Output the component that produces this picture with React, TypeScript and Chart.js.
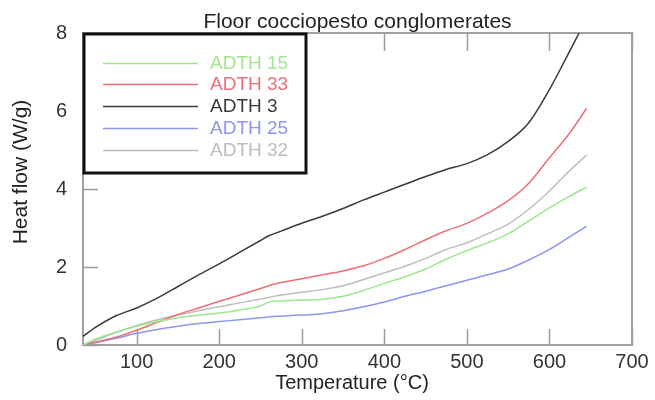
import React, { useEffect, useRef } from "react";
import { Chart, registerables } from "chart.js";

Chart.register(...registerables);

const temps = [35, 50, 75, 100, 125, 150, 175, 200, 225, 250, 260, 275, 300, 325, 350, 375, 400, 425, 450, 475, 500, 525, 550, 575, 600, 625, 645];

const adth15 = [0.0, 0.15, 0.33, 0.48, 0.6, 0.7, 0.76, 0.82, 0.9, 1.0, 1.1, 1.13, 1.15, 1.17, 1.25, 1.4, 1.58, 1.75, 1.95, 2.2, 2.42, 2.62, 2.85, 3.18, 3.52, 3.82, 4.05];
const adth33 = [0.0, 0.07, 0.2, 0.38, 0.58, 0.78, 0.95, 1.12, 1.28, 1.45, 1.52, 1.6, 1.7, 1.8, 1.9, 2.03, 2.22, 2.45, 2.7, 2.93, 3.12, 3.38, 3.7, 4.15, 4.8, 5.45, 6.07];
const adth3Temps = [35, 50, 75, 100, 125, 150, 175, 200, 225, 250, 260, 275, 300, 325, 350, 375, 400, 425, 450, 475, 500, 525, 550, 575, 600, 620, 636];
const adth3 = [0.22, 0.45, 0.75, 0.95, 1.2, 1.5, 1.8, 2.08, 2.38, 2.68, 2.8, 2.92, 3.12, 3.3, 3.5, 3.72, 3.92, 4.12, 4.32, 4.5, 4.65, 4.88, 5.22, 5.7, 6.55, 7.35, 8.0];
const adth25 = [0.0, 0.06, 0.17, 0.3, 0.4, 0.48, 0.55, 0.6, 0.65, 0.7, 0.72, 0.74, 0.77, 0.8, 0.88, 0.98, 1.1, 1.25, 1.38, 1.52, 1.66, 1.8, 1.95, 2.18, 2.45, 2.78, 3.05];
const adth32 = [0.0, 0.12, 0.32, 0.5, 0.65, 0.77, 0.88, 0.98, 1.08, 1.18, 1.22, 1.28, 1.35, 1.42, 1.52, 1.68, 1.85, 2.02, 2.22, 2.45, 2.62, 2.85, 3.1, 3.48, 3.95, 4.48, 4.87];

const seriesLabels = ["ADTH 15", "ADTH 33", "ADTH 3", "ADTH 25", "ADTH 32"];
const seriesColors = ["#9be88c", "#ec6f78", "#3a3a3a", "#8c96f0", "#bdbdbd"];
const xTicks = [100, 200, 300, 400, 500, 600, 700];
const yTicks = [0, 2, 4, 6, 8];
const chartTitle = "Floor cocciopesto conglomerates";
const xTitle = "Temperature (°C)";
const yTitle = "Heat flow (W/g)";

const FONT = "Liberation Sans, Arial, sans-serif";

const pts = (xs: number[], ys: number[]) => xs.map((x, i) => ({ x, y: ys[i] }));

const decorPlugin = {
  id: "decor",
  beforeDatasetsDraw(chart: any) {
    const { ctx, chartArea: a, scales } = chart;
    ctx.save();
    ctx.strokeStyle = "#9a9a9a";
    ctx.lineWidth = 1.5;
    ctx.beginPath();
    for (const v of xTicks) {
      const px = Math.round(scales.x.getPixelForValue(v)) + 0.5;
      ctx.moveTo(px, a.bottom);
      ctx.lineTo(px, a.bottom - 16);
      ctx.moveTo(px, a.top);
      ctx.lineTo(px, a.top + 18);
    }
    for (const v of yTicks) {
      const py = Math.round(scales.y.getPixelForValue(v)) + 0.5;
      ctx.moveTo(a.left, py);
      ctx.lineTo(a.left + 15, py);
    }
    ctx.stroke();
    ctx.lineWidth = 2;
    ctx.strokeStyle = "#a0a0a0";
    ctx.strokeRect(a.left, a.top, a.right - a.left, a.bottom - a.top);
    ctx.restore();
  },
  afterDraw(chart: any) {
    const { ctx, chartArea: a } = chart;
    ctx.save();
    ctx.fillStyle = "#222";
    ctx.font = `21px ${FONT}`;
    ctx.textAlign = "center";
    ctx.textBaseline = "middle";
    ctx.fillText(chartTitle, (a.left + a.right) / 2, 22);
    ctx.font = `20px ${FONT}`;
    ctx.fillText(xTitle, 352, 383);
    ctx.save();
    ctx.translate(21, 172);
    ctx.rotate(-Math.PI / 2);
    ctx.font = `21px ${FONT}`;
    ctx.fillText(yTitle, 0, 0);
    ctx.restore();
    // legend box
    const bx = a.left, by = a.top, bw = 224, bh = 141;
    ctx.fillStyle = "#fff";
    ctx.fillRect(bx, by, bw, bh);
    ctx.strokeStyle = "#111";
    ctx.lineWidth = 3;
    ctx.strokeRect(bx + 1, by + 1, bw - 2, bh - 2);
    const rows = [63, 84, 106, 128, 150];
    chart.data.datasets.forEach((ds: any, i: number) => {
      const y = rows[i];
      ctx.strokeStyle = ds.borderColor;
      ctx.lineWidth = 1.5;
      ctx.beginPath();
      ctx.moveTo(103, y + 0.5);
      ctx.lineTo(198, y + 0.5);
      ctx.stroke();
      ctx.fillStyle = ds.borderColor;
      ctx.font = `19px ${FONT}`;
      ctx.textAlign = "left";
      ctx.textBaseline = "middle";
      ctx.fillText(ds.label, 210, y + 1);
    });
    ctx.restore();
  },
};

export default function App() {
  const ref = useRef<HTMLCanvasElement | null>(null);
  useEffect(() => {
    if (!ref.current) return;
    const seriesData = [
      pts(temps, adth15),
      pts(temps, adth33),
      pts(adth3Temps, adth3),
      pts(temps, adth25),
      pts(temps, adth32),
    ];
    const chart = new Chart(ref.current, {
      type: "line",
      data: {
        datasets: seriesLabels.map((label, i) => ({
          label,
          data: seriesData[i],
          borderColor: seriesColors[i],
          borderWidth: 1.5,
          pointRadius: 0,
          cubicInterpolationMode: "monotone",
          fill: false,
        })),
      },
      options: {
        animation: false,
        responsive: false,
        maintainAspectRatio: false,
        layout: { padding: { left: 0, top: 33, right: 23, bottom: 0 } },
        plugins: { legend: { display: false }, title: { display: false }, tooltip: { enabled: false } },
        scales: {
          x: {
            type: "linear",
            min: 35,
            max: 700,
            grid: { display: false, drawTicks: false },
            border: { display: false },
            afterBuildTicks: (s: any) => {
              s.ticks = xTicks.map((v) => ({ value: v }));
            },
            afterFit: (s: any) => {
              s.height = 55;
            },
            ticks: {
              padding: 5,
              color: "#333",
              font: { family: FONT, size: 20 },
              maxRotation: 0,
              autoSkip: false,
            },
          },
          y: {
            type: "linear",
            min: 0,
            max: 8,
            grid: { display: false, drawTicks: false },
            border: { display: false },
            afterBuildTicks: (s: any) => {
              s.ticks = yTicks.map((v) => ({ value: v }));
            },
            afterFit: (s: any) => {
              s.width = 83;
            },
            ticks: {
              padding: 16,
              color: "#333",
              font: { family: FONT, size: 20 },
              autoSkip: false,
            },
          },
        },
      } as any,
      plugins: [decorPlugin],
    });
    return () => chart.destroy();
  }, []);
  return (
    <div style={{ position: "fixed", left: 0, top: 0, width: 655, height: 400, background: "#fff" }}>
      <canvas ref={ref} width={655} height={400} style={{ width: 655, height: 400 }} />
    </div>
  );
}
